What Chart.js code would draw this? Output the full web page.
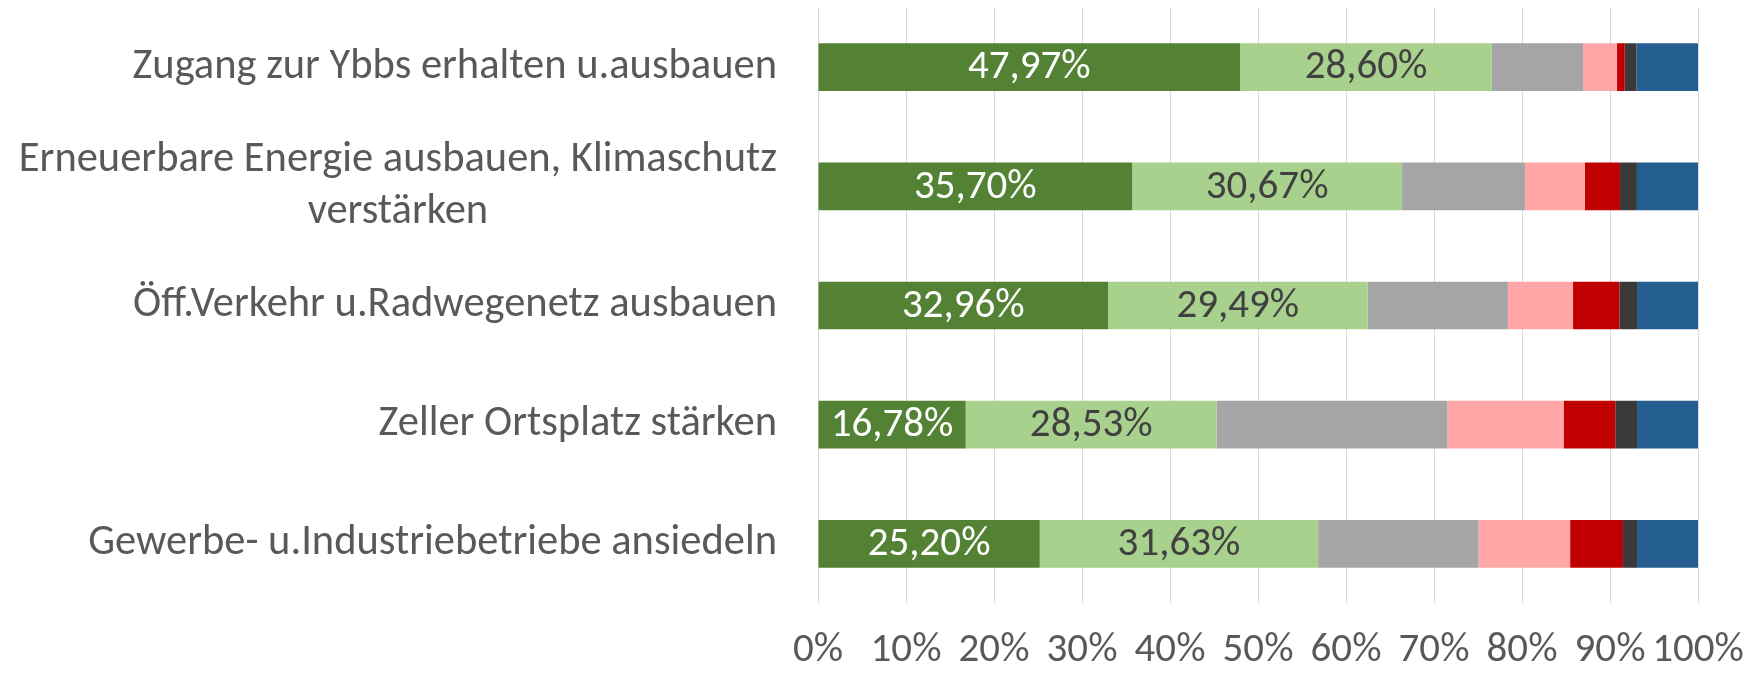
<!DOCTYPE html>
<html><head><meta charset="utf-8">
<script src="https://cdn.jsdelivr.net/npm/chart.js@4/dist/chart.umd.min.js"></script>
<style>html,body{margin:0;padding:0;background:#fff;overflow:hidden}#wrap{width:1757px;height:674px}</style>
</head><body><div id="wrap"><canvas id="c" width="1757" height="674"></canvas></div>
<script>
// Categories (multi-line labels as arrays)
const categories = [
  ["Zugang zur Ybbs erhalten u.ausbauen"],
  ["Erneuerbare Energie ausbauen, Klimaschutz", "verstärken"],
  ["Öff.Verkehr u.Radwegenetz ausbauen"],
  ["Zeller Ortsplatz stärken"],
  ["Gewerbe- u.Industriebetriebe ansiedeln"]
];
const seriesNames = ["Stufe 1", "Stufe 2", "Stufe 3", "Stufe 4", "Stufe 5", "Stufe 6", "keine Angabe"];
const series1 = [47.97, 35.70, 32.96, 16.78, 25.20];
const series2 = [28.60, 30.67, 29.49, 28.53, 31.63];
const series3 = [10.36, 13.96, 15.95, 26.22, 18.24];
const series4 = [3.87, 6.80, 7.40, 13.20, 10.40];
const series5 = [0.87, 4.00, 5.27, 5.87, 6.00];
const series6 = [1.33, 1.93, 2.00, 2.47, 1.60];
const series7 = [7.00, 6.94, 6.93, 6.93, 6.93];
const xTickValues = [0, 10, 20, 30, 40, 50, 60, 70, 80, 90, 100];
const labelledSeries = [0, 1];

const colors = ["#548235", "#A9D18E", "#A5A5A5", "#FFA7A7", "#C00000", "#3B3838", "#255E91"];
const labelColors = ["#FFFFFF", "#404040"];
const FONT = "Calibri, Carlito, Lato, sans-serif";
const allSeries = [series1, series2, series3, series4, series5, series6, series7];

const catLabelPlugin = {
  id: 'catLabels',
  afterDraw(chart) {
    const ctx = chart.ctx, ys = chart.scales.y, area = chart.chartArea;
    ctx.save();
    ctx.font = "42.5px " + FONT;
    ctx.fillStyle = "#595959";
    ctx.textAlign = "center";
    ctx.textBaseline = "middle";
    const right = area.left - 41;
    const lh = 52;
    categories.forEach((lines, i) => {
      const yc = ys.getPixelForValue(i);
      const maxW = Math.max(...lines.map(l => ctx.measureText(l).width));
      const x = right - maxW / 2;
      const y0 = yc - (lines.length - 1) * lh / 2;
      lines.forEach((l, j) => ctx.fillText(l, x, y0 + j * lh));
    });
    ctx.restore();
  }
};

const dataLabelPlugin = {
  id: 'dataLabels',
  afterDatasetsDraw(chart) {
    const ctx = chart.ctx;
    ctx.save();
    ctx.font = "41px " + FONT;
    ctx.textAlign = "center";
    ctx.textBaseline = "middle";
    labelledSeries.forEach(di => {
      const meta = chart.getDatasetMeta(di);
      ctx.fillStyle = labelColors[di];
      meta.data.forEach((el, i) => {
        const v = chart.data.datasets[di].data[i];
        const cx = (el.x + el.base) / 2;
        ctx.fillText(v.toFixed(2).replace('.', ',') + '%', cx, el.y + 1);
      });
    });
    ctx.restore();
  }
};

new Chart(document.getElementById('c'), {
  type: 'bar',
  data: {
    labels: categories.map(c => c.join(' ')),
    datasets: allSeries.map((d, i) => ({
      label: seriesNames[i],
      data: d,
      backgroundColor: colors[i],
      borderWidth: 0,
      barPercentage: 0.4,
      categoryPercentage: 1.0
    }))
  },
  options: {
    indexAxis: 'y',
    responsive: false,
    animation: false,
    devicePixelRatio: 1,
    layout: { padding: { top: 7.6, right: 59, bottom: 0, left: 0 } },
    plugins: { legend: { display: false }, tooltip: { enabled: false } },
    scales: {
      x: {
        stacked: true, min: 0, max: 100,
        afterBuildTicks: s => { s.ticks = xTickValues.map(v => ({ value: v })); },
        afterFit: s => { s.height = 70.6; s.paddingLeft = 0; s.paddingRight = 0; },
        ticks: {
          autoSkip: false, maxRotation: 0, minRotation: 0, padding: 23,
          color: "#595959", font: { family: FONT, size: 41 },
          callback: v => v + '%'
        },
        grid: { color: "#D9D9D9", lineWidth: 1, drawTicks: false },
        border: { display: false }
      },
      y: {
        stacked: true,
        ticks: { display: false },
        grid: { display: false },
        border: { display: false },
        afterFit: s => { s.width = 818; }
      }
    }
  },
  plugins: [catLabelPlugin, dataLabelPlugin]
});
</script>
</body></html>
